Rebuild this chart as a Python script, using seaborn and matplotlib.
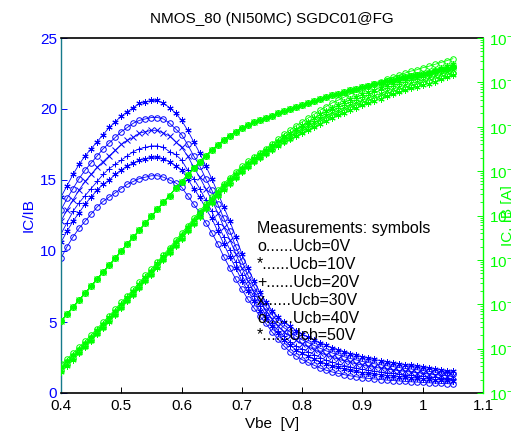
import matplotlib
matplotlib.use("Agg")
import matplotlib.pyplot as plt
import matplotlib.ticker as mticker
import numpy as np
import seaborn as sns

plt.rcParams['font.family'] = ['Liberation Sans', 'DejaVu Sans']
plt.rcParams['mathtext.default'] = 'regular'

# ---------------- data ----------------
vbe = [0.40, 0.41, 0.42, 0.43, 0.44, 0.45, 0.46, 0.47, 0.48, 0.49,
       0.50, 0.51, 0.52, 0.53, 0.54, 0.55, 0.56, 0.57, 0.58, 0.59,
       0.60, 0.61, 0.62, 0.63, 0.64, 0.65, 0.66, 0.67, 0.68, 0.69,
       0.70, 0.71, 0.72, 0.73, 0.74, 0.75, 0.76, 0.77, 0.78, 0.79,
       0.80, 0.81, 0.82, 0.83, 0.84, 0.85, 0.86, 0.87, 0.88, 0.89,
       0.90, 0.91, 0.92, 0.93, 0.94, 0.95, 0.96, 0.97, 0.98, 0.99,
       1.00, 1.01, 1.02, 1.03, 1.04, 1.05]

ucb_labels = ["Ucb=0V", "Ucb=10V", "Ucb=20V", "Ucb=30V", "Ucb=40V", "Ucb=50V"]

beta_0v = [9.5, 10.3, 11.0, 11.6, 12.1, 12.6, 13.1, 13.5, 13.8, 14.1,
           14.4, 14.7, 14.9, 15.1, 15.2, 15.3, 15.3, 15.2, 15.0, 14.8,
           14.5, 13.9, 13.3, 12.7, 12.0, 11.3, 10.5, 9.6, 8.8, 8.0,
           7.3, 6.6, 6.0, 5.4, 4.9, 4.3, 3.8, 3.3, 2.9, 2.6,
           2.35, 2.15, 1.95, 1.76, 1.6, 1.48, 1.38, 1.29, 1.21, 1.14,
           1.07, 1.03, 0.99, 0.95, 0.91, 0.88, 0.85, 0.82, 0.79, 0.77,
           0.74, 0.72, 0.70, 0.68, 0.66, 0.64]
beta_10v = [10.6, 11.4, 12.1, 12.7, 13.3, 13.8, 14.3, 14.7, 15.0, 15.4,
            15.7, 16.0, 16.2, 16.4, 16.5, 16.6, 16.6, 16.5, 16.3, 16.0,
            15.7, 15.1, 14.4, 13.8, 13.0, 12.3, 11.4, 10.5, 9.6, 8.8,
            7.9, 7.2, 6.5, 5.8, 5.3, 4.7, 4.2, 3.7, 3.35, 3.05,
            2.8, 2.6, 2.4, 2.2, 2.04, 1.91, 1.8, 1.69, 1.6, 1.52,
            1.44, 1.39, 1.33, 1.28, 1.23, 1.19, 1.15, 1.12, 1.08, 1.05,
            1.01, 0.98, 0.95, 0.92, 0.89, 0.86]
beta_20v = [11.2, 12.0, 12.8, 13.4, 13.9, 14.4, 14.9, 15.4, 15.8, 16.1,
            16.4, 16.7, 17.0, 17.2, 17.3, 17.4, 17.4, 17.3, 17.0, 16.8,
            16.4, 15.7, 15.1, 14.4, 13.6, 12.8, 11.9, 11.0, 10.1, 9.2,
            8.3, 7.5, 6.8, 6.1, 5.5, 4.9, 4.4, 4.0, 3.6, 3.3,
            3.1, 2.9, 2.7, 2.5, 2.3, 2.17, 2.05, 1.93, 1.84, 1.75,
            1.66, 1.6, 1.54, 1.48, 1.43, 1.38, 1.33, 1.29, 1.25, 1.21,
            1.17, 1.14, 1.10, 1.06, 1.03, 0.99]
beta_30v = [12.1, 12.9, 13.6, 14.3, 14.9, 15.4, 15.9, 16.3, 16.7, 17.1,
            17.5, 17.8, 18.0, 18.3, 18.4, 18.5, 18.5, 18.3, 18.1, 17.7,
            17.3, 16.7, 15.9, 15.2, 14.4, 13.6, 12.7, 11.7, 10.8, 9.8,
            8.8, 7.9, 7.1, 6.4, 5.8, 5.2, 4.7, 4.3, 4.0, 3.7,
            3.45, 3.25, 3.05, 2.85, 2.65, 2.51, 2.38, 2.26, 2.15, 2.05,
            1.96, 1.88, 1.81, 1.75, 1.68, 1.63, 1.58, 1.53, 1.48, 1.44,
            1.39, 1.34, 1.30, 1.26, 1.21, 1.17]
beta_40v = [12.9, 13.7, 14.4, 15.1, 15.7, 16.2, 16.7, 17.2, 17.6, 18.0,
            18.4, 18.7, 19.0, 19.2, 19.3, 19.4, 19.4, 19.3, 19.0, 18.6,
            18.2, 17.5, 16.7, 16.0, 15.1, 14.3, 13.3, 12.3, 11.4, 10.3,
            9.3, 8.3, 7.5, 6.7, 6.1, 5.5, 5.0, 4.6, 4.3, 4.0,
            3.75, 3.55, 3.35, 3.15, 2.97, 2.82, 2.68, 2.55, 2.43, 2.33,
            2.22, 2.14, 2.06, 1.99, 1.92, 1.86, 1.79, 1.74, 1.69, 1.64,
            1.58, 1.53, 1.48, 1.43, 1.38, 1.33]
beta_50v = [13.8, 14.6, 15.4, 16.1, 16.7, 17.2, 17.7, 18.2, 18.7, 19.1,
            19.5, 19.8, 20.1, 20.4, 20.5, 20.6, 20.6, 20.4, 20.1, 19.7,
            19.2, 18.5, 17.7, 16.9, 16.0, 15.1, 14.1, 13.1, 12.1, 11.0,
            9.8, 8.8, 7.9, 7.1, 6.4, 5.8, 5.35, 5.0, 4.7, 4.4,
            4.15, 3.95, 3.75, 3.55, 3.35, 3.2, 3.05, 2.9, 2.78, 2.66,
            2.55, 2.45, 2.36, 2.28, 2.2, 2.13, 2.06, 2.0, 1.94, 1.88,
            1.82, 1.76, 1.70, 1.64, 1.58, 1.52]

# collector current, log10(IC / A)
ic_log10 = [-7.38, -7.22, -7.06, -6.90, -6.75, -6.59, -6.43, -6.27, -6.12, -5.96,
            -5.80, -5.64, -5.49, -5.33, -5.17, -5.02, -4.86, -4.70, -4.55, -4.39,
            -4.24, -4.09, -3.94, -3.80, -3.66, -3.53, -3.41, -3.30, -3.20, -3.11,
            -3.03, -2.96, -2.90, -2.85, -2.80, -2.75, -2.70, -2.65, -2.61, -2.56,
            -2.52, -2.47, -2.43, -2.38, -2.34, -2.29, -2.26, -2.22, -2.18, -2.15,
            -2.11, -2.08, -2.04, -2.01, -1.97, -1.94, -1.91, -1.88, -1.85, -1.83,
            -1.80, -1.78, -1.75, -1.72, -1.69, -1.66]

betas = [beta_0v, beta_10v, beta_20v, beta_30v, beta_40v, beta_50v]
symbols = ['o', (6, 2, 0), '+', 'x', 'o', (6, 2, 0)]
sym_txt = ['o', '*', '+', 'x', 'o', '*']

BLUE = '#0000FF'
GREEN = '#00FF00'

# ---------------- figure ----------------
fig = plt.figure(figsize=(5.11, 4.37), dpi=100)
ax = fig.add_axes([61 / 511, 1 - 393 / 437, (483 - 61) / 511, (393 - 38) / 437])
ax2 = ax.twinx()

x_arr = np.array(vbe)
ic = 10.0 ** np.array(ic_log10)

for b, m in zip(betas, symbols):
    b_arr = np.array(b)
    ms = 4 if m == 'o' else 4.5
    sns.lineplot(x=x_arr, y=b_arr, ax=ax, color=BLUE, lw=0.6, marker=m,
                 markersize=ms, markerfacecolor='none', markeredgecolor=BLUE,
                 markeredgewidth=0.7, legend=False, sort=False, estimator=None)
    ib = ic / b_arr
    for series in (ic, ib):
        sns.lineplot(x=x_arr, y=series, ax=ax2, color=GREEN, lw=0.6, marker=m,
                     markersize=ms, markerfacecolor='none', markeredgecolor=GREEN,
                     markeredgewidth=0.7, legend=False, sort=False, estimator=None)

# left axis
ax.set_xlim(0.4, 1.1)
ax.set_ylim(0, 25)
ax.set_xticks([0.4, 0.5, 0.6, 0.7, 0.8, 0.9, 1.0, 1.1])
ax.set_xticklabels(['0.4', '0.5', '0.6', '0.7', '0.8', '0.9', '1', '1.1'])
ax.set_yticks([0, 5, 10, 15, 20, 25])
ax.tick_params(axis='x', direction='in', length=4, width=0.7, labelsize=11,
               pad=4.5, colors='black')
ax.tick_params(axis='y', direction='in', length=4, width=0.7, labelsize=11,
               pad=3, colors=BLUE)
ax.set_xlabel('Vbe  [V]', fontsize=11, labelpad=3)
ax.set_ylabel('IC/IB', fontsize=11, color=BLUE, labelpad=3)
ax.set_title('NMOS_80 (NI50MC) SGDC01@FG', fontsize=11, pad=11)
for s in ('top', 'bottom'):
    ax.spines[s].set_color('black')
    ax.spines[s].set_linewidth(1.2)
ax.spines['left'].set_color('#157a8a')
ax.spines['left'].set_linewidth(1.0)
ax.spines['right'].set_visible(False)

# right axis
ax2.set_yscale('log')
ax2.set_ylim(1e-9, 1e-1)
ax2.yaxis.set_major_locator(mticker.LogLocator(base=10, numticks=20))
ax2.yaxis.set_minor_locator(mticker.LogLocator(base=10, subs=np.arange(2, 10), numticks=20))
ax2.yaxis.set_minor_formatter(mticker.NullFormatter())
ax2.tick_params(axis='y', which='major', direction='in', length=4, width=0.7,
                labelsize=11, pad=4, colors=GREEN)
ax2.tick_params(axis='y', which='minor', direction='in', length=2, width=0.6,
                colors=GREEN)
for s in ('top', 'bottom', 'left'):
    ax2.spines[s].set_visible(False)
ax2.spines['right'].set_color(GREEN)
ax2.spines['right'].set_linewidth(1.0)
ax2.set_ylabel('IC, IB [A]', fontsize=11, color=GREEN)
ax2.yaxis.set_label_coords(1.043, 0.5)
ax2.set_xlim(0.4, 1.1)

# annotation text
fig.text(257 / 511, 1 - 228 / 437, 'Measurements: symbols', fontsize=11.5,
         va='center', ha='left')
for k, (st, lab) in enumerate(zip(sym_txt, ucb_labels)):
    ypx = 247 + 17.8 * k
    fig.text(257 / 511, 1 - ypx / 437, st + '......' + lab, fontsize=11.5,
             va='center', ha='left')

fig.savefig('out.png', dpi=100)
